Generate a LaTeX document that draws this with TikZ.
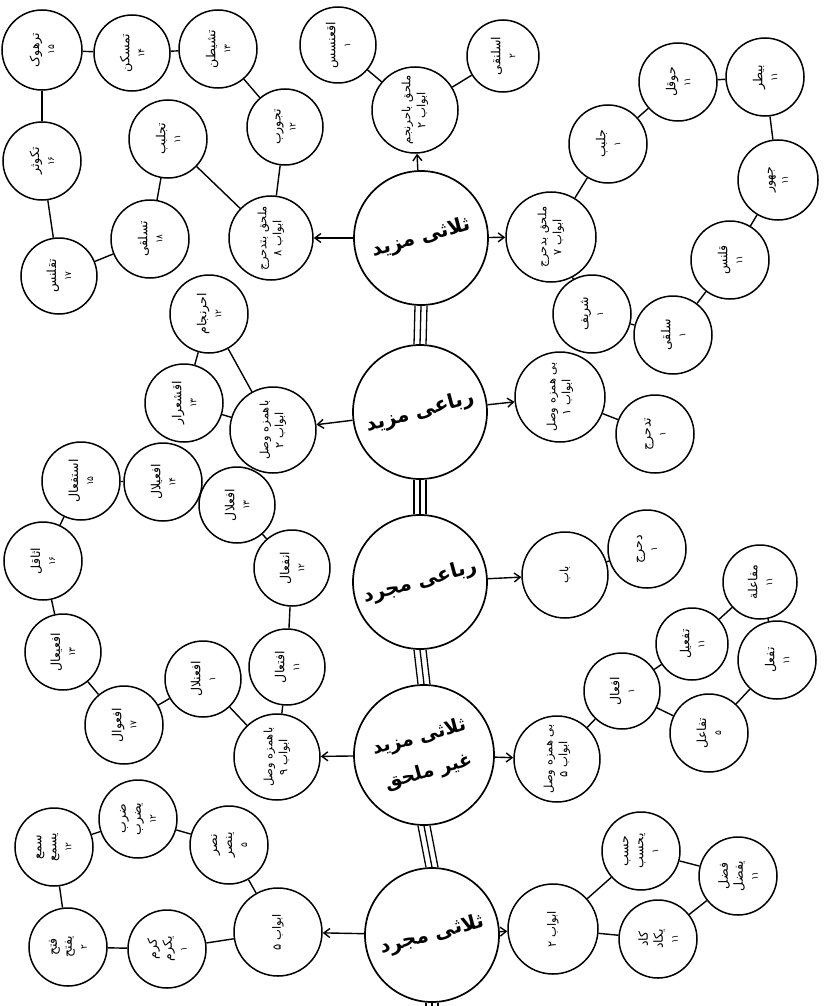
\documentclass[tikz,border=0pt]{standalone}
\usepackage{fontspec}
\newfontfamily\ar[Script=Arabic]{DejaVu Sans}
\TeXXeTstate=1
\usetikzlibrary{arrows.meta}
\newcommand\urd[1]{\beginR #1\endR}
\newcommand\numf{\fontsize{9}{10}\selectfont}
\begin{document}
\begin{tikzpicture}[x=1pt,y=-1pt,
  main/.style={circle,draw,line width=1.7pt,minimum size=134pt,inner sep=0pt},
  mainlbl/.style={rotate=15,align=center,inner sep=0pt,font=\ar\bfseries\fontsize{20}{27}\selectfont},
  hub/.style={circle,draw,line width=1.5pt,minimum size=86pt,inner sep=0pt,align=center,rotate=90,
    font=\ar\fontsize{11.5}{15}\selectfont},
  leaf/.style={circle,draw,line width=1.5pt,minimum size=78pt,inner sep=0pt,align=center,rotate=90,
    font=\ar\fontsize{12.5}{15}\selectfont},
  link/.style={line width=1.4pt},
  tri/.style={line width=1.3pt},
  arr/.style={line width=1.4pt,-{Straight Barb[length=6pt,width=9pt]}}]
\useasboundingbox (0,0) rectangle (827,1006);
% main column
\node[main,label={[mainlbl]center:{\beginR ثلاثی مزید\endR}}] (C1) at (421,238) {};
\node[main,label={[mainlbl]center:{\beginR رباعی مزید\endR}}] (C2) at (420,412) {};
\node[main,label={[mainlbl]center:{\beginR رباعی مجرد\endR}}] (C3) at (420,582) {};
\node[main,minimum size=140pt,label={[mainlbl,font=\ar\bfseries\fontsize{19}{36}\selectfont]center:{\beginR ثلاثی مزید\endR\\\beginR غیر ملحق\endR}}] (C4) at (424,755) {};
\node[main,label={[mainlbl]center:{\beginR ثلاثی مجرد\endR}}] (C5) at (432,935) {};
\coordinate (bot) at (432,1010);
\foreach \a/\b in {C1/C2,C2/C3,C3/C4,C4/C5}{
  \foreach \dx in {-6,0,6}{\draw[tri] ([xshift=\dx pt]\a.south) -- ([xshift=\dx pt]\b.north);}}
\foreach \dx in {-6,0,6}{\draw[tri] ([xshift=\dx pt]C5.south) -- ([xshift=\dx pt]bot);}
% top group
\node[hub] (T) at (415,110) {\beginR ملحق باحرنجم\endR\\\beginR ابواب ۲\endR};
\node[leaf,minimum size=76pt] (tl) at (338,45) {\urd{اقعنسس}\\{\numf ۱}};
\node[leaf,minimum size=72pt] (tr) at (503,56) {\urd{اسلنقی}\\{\numf ۲}};
% C1 left ring
\node[hub,minimum size=84pt] (L1) at (271,238) {\beginR ملحق بتدحرج\endR\\\beginR ابواب ۸\endR};
\node[leaf,minimum size=80pt] (p1) at (42,50) {\urd{ترهوک}\\{\numf ۱۵}};
\node[leaf,minimum size=76pt] (p2) at (132,53) {\urd{تمسکن}\\{\numf ۱۴}};
\node[leaf] (p3) at (218,49) {\urd{تشیطن}\\{\numf ۱۳}};
\node[leaf,minimum size=76pt] (p4) at (285,127) {\urd{تجورب}\\{\numf ۱۲}};
\node[leaf] (p5) at (168,139) {\urd{تجلبب}\\{\numf ۱۱}};
\node[leaf] (p6) at (42,161) {\urd{تکوثر}\\{\numf ۱۶}};
\node[leaf] (p7) at (150,239) {\urd{تسلقی}\\{\numf ۱۸}};
\node[leaf,minimum size=76pt] (p8) at (59,276) {\urd{تقلنس}\\{\numf ۱۷}};
% C1 right ring
\node[hub,minimum size=90pt] (R1) at (551,237) {\beginR ملحق بدحرج\endR\\\beginR ابواب ۷\endR};
\node[leaf] (a) at (608,144) {\urd{جلبب}\\{\numf ۱}};
\node[leaf] (b) at (678,82) {\urd{حوقل}\\{\numf ۱۱}};
\node[leaf] (c) at (765,77) {\urd{بیطر}\\{\numf ۱۱}};
\node[leaf,minimum size=80pt] (d) at (778,180) {\urd{جهور}\\{\numf ۱۱}};
\node[leaf] (e) at (730,260) {\urd{قلنس}\\{\numf ۱۱}};
\node[leaf] (f) at (673,335) {\urd{سلقی}\\{\numf ۱}};
\node[leaf] (g) at (592,314) {\urd{شریف}\\{\numf ۱}};
% C2 groups
\node[hub] (L2) at (273,430) {\beginR باهمزه وصل\endR\\\beginR ابواب ۲\endR};
\node[leaf] (q1) at (209,314) {\urd{احرنجام}\\{\numf ۱۲}};
\node[leaf] (q2) at (184,403) {\urd{اقشعرار}\\{\numf ۱۳}};
\node[hub,minimum size=90pt] (R2) at (560,397) {\beginR بی همزه وصل\endR\\\beginR ابواب ۱\endR};
\node[leaf] (s1) at (655,434) {\urd{تدحرج}\\{\numf ۱}};
% C3 group
\node[hub] (R3) at (565,575) {\urd{باب}};
\node[leaf] (s2) at (647,549) {\urd{دحرج}\\{\numf ۱}};
% C4 left ring
\node[hub] (L4) at (277,757) {\beginR باهمزه وصل\endR\\\beginR ابواب ۹\endR};
\node[leaf] (u1) at (81,481) {\urd{استفعال}\\{\numf ۱۵}};
\node[leaf] (u2) at (163,482) {\urd{افعیلال}\\{\numf ۱۴}};
\node[leaf,minimum size=76pt] (u3) at (237,505) {\urd{افعلال}\\{\numf ۱۳}};
\node[leaf,minimum size=76pt] (u4) at (292,568) {\urd{انفعال}\\{\numf ۱۲}};
\node[leaf,minimum size=76pt] (u5) at (287,667) {\urd{افتعال}\\{\numf ۱۱}};
\node[leaf,minimum size=76pt] (u6) at (203,679) {\urd{افعنلال}\\{\numf ۱}};
\node[leaf] (u7) at (124,725) {\urd{افعوال}\\{\numf ۱۷}};
\node[leaf,minimum size=76pt] (u8) at (63,652) {\urd{افعیعال}\\{\numf ۱۳}};
\node[leaf] (u9) at (43,561) {\urd{اثاقل}\\{\numf ۱۶}};
% C4 right ring
\node[hub] (R4) at (557,759) {\beginR بی همزه وصل\endR\\\beginR ابواب ۵\endR};
\node[leaf,minimum size=76pt] (t1) at (622,691) {\urd{افعال}\\{\numf ۱}};
\node[leaf,minimum size=72pt] (t2) at (692,644) {\urd{تفعیل}\\{\numf ۱۱}};
\node[leaf,minimum size=74pt] (t3) at (760,582) {\urd{مفاعلة}\\{\numf ۱۱}};
\node[leaf] (t4) at (777,660) {\urd{تفعل}\\{\numf ۱۱}};
\node[leaf] (t5) at (709,733) {\urd{تفاعل}\\{\numf ۵}};
% C5 left ring
\node[hub,minimum size=88pt] (L5) at (278,932) {\beginR ابواب ۵\endR};
\node[leaf] (v1) at (229,845) {\urd{نصر}\\\urd{ینصر}\\{\numf ۵}};
\node[leaf] (v2) at (138,819) {\urd{ضرب}\\\urd{یضرب}\\{\numf ۱۲}};
\node[leaf] (v3) at (54,847) {\urd{سمع}\\\urd{یسمع}\\{\numf ۱۲}};
\node[leaf] (v4) at (68,947) {\urd{فتح}\\\urd{یفتح}\\{\numf ۲}};
\node[leaf] (v5) at (167,949) {\urd{کرم}\\\urd{یکرم}\\{\numf ۱}};
% C5 right ring
\node[hub,minimum size=90pt] (R5) at (553,929) {\beginR ابواب ۲\endR};
\node[leaf] (w1) at (641,851) {\urd{حسب}\\\urd{یحسب}\\{\numf ۱}};
\node[leaf] (w2) at (738,876) {\urd{فضل}\\\urd{یفضل}\\{\numf ۱۱}};
\node[leaf] (w3) at (658,939) {\urd{کاد}\\\urd{یکاد}\\{\numf ۱۱}};
% links
\foreach \a/\b in {T/tl,T/tr,
  L1/p4,p4/p3,p3/p2,p2/p1,p1/p6,p6/p8,p8/p7,p7/p5,p5/L1,
  R1/a,a/b,b/c,c/d,d/e,e/f,f/g,g/R1,
  L2/q1,L2/q2,q1/q2,R2/s1,R3/s2,
  L4/u5,u5/u4,u4/u3,u3/u2,u2/u1,u1/u9,u9/u8,u8/u7,u7/u6,u6/L4,
  R4/t1,t1/t2,t2/t3,t3/t4,t4/t5,t5/t1,
  L5/v1,v1/v2,v2/v3,v3/v4,v4/v5,v5/L5,
  R5/w1,w1/w2,w2/w3,w3/R5}{\draw[link] (\a) -- (\b);}
% arrows
\foreach \a/\b in {C1/T,C1/L1,C1/R1,C2/L2,C2/R2,C3/R3,C4/L4,C4/R4,C5/L5,C5/R5}{\draw[arr] (\a) -- (\b);}
\end{tikzpicture}
\end{document}
